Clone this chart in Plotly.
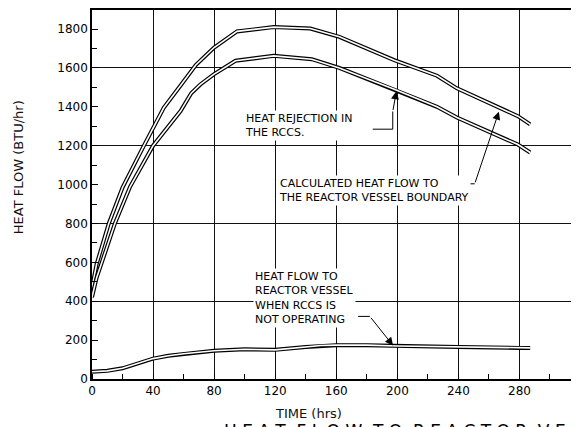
import plotly.graph_objects as go

# ---- data ----
t_boundary = [0, 3, 11, 20, 34, 47, 58, 68, 80, 95, 119, 143, 162, 198, 226, 239, 279, 287]
q_boundary = [470, 590, 800, 985, 1200, 1395, 1510, 1615, 1705, 1788, 1810, 1803, 1760, 1640, 1560, 1495, 1352, 1310]

t_rccs = [0, 3, 15, 25, 40, 48, 58, 65, 71, 80, 94, 119, 144, 162, 198, 226, 239, 279, 287]
q_rccs = [420, 520, 800, 990, 1200, 1280, 1378, 1470, 1515, 1568, 1637, 1662, 1645, 1600, 1490, 1400, 1345, 1206, 1165]

t_noop = [0, 10, 20, 30, 40, 50, 60, 80, 100, 120, 140, 150, 160, 180, 200, 240, 280, 287]
q_noop = [37, 42, 55, 78, 105, 120, 130, 145, 153, 150, 165, 172, 174, 174, 170, 165, 160, 160]

x_ticks = [0, 40, 80, 120, 160, 200, 240, 280]
y_ticks = [0, 200, 400, 600, 800, 1000, 1200, 1400, 1600, 1800]

FONT = "DejaVu Sans"

fig = go.Figure()

# double-line (hollow) curves: thick black line + thin white core
for tx, qy in [(t_boundary, q_boundary), (t_rccs, q_rccs), (t_noop, q_noop)]:
    fig.add_trace(go.Scatter(x=tx, y=qy, mode="lines",
                             line=dict(color="black", width=4),
                             hoverinfo="skip", showlegend=False))
    fig.add_trace(go.Scatter(x=tx, y=qy, mode="lines",
                             line=dict(color="white", width=1.6),
                             hoverinfo="skip", showlegend=False))

# invisible trace carrying the gridline axis
fig.add_trace(go.Scatter(x=[0], y=[0], yaxis="y2", mode="markers",
                         marker=dict(opacity=0), hoverinfo="skip", showlegend=False))

# leader lines
leaders = [
    [(183.9, 1285), (197, 1285), (197, 1376)],
    [(240.8, 1004), (250.7, 1004)],
    [(174.3, 322), (182, 322)],
]
for pts in leaders:
    path = "M " + " L ".join(f"{a},{b}" for a, b in pts)
    fig.add_shape(type="path", path=path, xref="x", yref="y",
                  line=dict(color="black", width=1), layer="above")

# arrows
arrows = [
    ((197, 1376), (199.4, 1480)),
    ((250.7, 1004), (266.5, 1375)),
    ((182, 322), (197.2, 172)),
]
for (ax_, ay_), (x_, y_) in arrows:
    fig.add_annotation(x=x_, y=y_, ax=ax_, ay=ay_, xref="x", yref="y",
                       axref="x", ayref="y", text="", showarrow=True,
                       arrowhead=2, arrowsize=1.6, arrowwidth=1, arrowcolor="black")

# labels
labels = [
    (98.8, 1304, "HEAT REJECTION IN<br>THE RCCS."),
    (120.9, 968, "CALCULATED HEAT FLOW TO<br>THE REACTOR VESSEL BOUNDARY"),
    (105.2, 419, "HEAT FLOW TO<br>REACTOR VESSEL<br>WHEN RCCS IS<br>NOT OPERATING"),
]
for x_, y_, txt in labels:
    fig.add_annotation(x=x_, y=y_, xref="x", yref="y", text=txt, showarrow=False,
                       xanchor="left", yanchor="middle", align="left",
                       bgcolor="white", borderpad=1,
                       font=dict(family=FONT, size=11, color="black"))

# axis titles
fig.add_annotation(x=-0.152, y=0.574, xref="paper", yref="paper",
                   text="HEAT FLOW (BTU/hr)", textangle=-90, showarrow=False,
                   xanchor="center", yanchor="middle",
                   font=dict(family=FONT, size=13, color="#111111"))
fig.add_annotation(x=0.4446, y=-0.094, xref="paper", yref="paper",
                   text="TIME (hrs)", showarrow=False,
                   xanchor="center", yanchor="middle",
                   font=dict(family=FONT, size=13, color="#111111"))

# cut-off figure caption at the bottom edge
fig.add_annotation(x=0.269, y=-0.111, xref="paper", yref="paper",
                   text="H E A T  F L O W  T O  R E A C T O R  V E S S E L",
                   showarrow=False, xanchor="left", yanchor="top", borderpad=0,
                   font=dict(family=FONT, size=17, color="black"))

# page body has an 8px margin, so the figure is sized to the visible area
fig.update_layout(
    width=571, height=419,
    margin=dict(l=84, r=0, t=0, b=48),
    paper_bgcolor="white", plot_bgcolor="white",
    xaxis=dict(range=[0, 319], tickvals=x_ticks, ticks="", showgrid=True,
               gridcolor="#111111", gridwidth=1, zeroline=False,
               showline=True, linecolor="black", linewidth=1.5, mirror=True,
               tickfont=dict(family=FONT, size=12, color="black"),
               minor=dict(dtick=20, tick0=0, ticks="inside", ticklen=5,
                          tickcolor="black", showgrid=False)),
    yaxis=dict(range=[0, 1898], tickvals=y_ticks, ticks="inside", ticklen=6,
               tickcolor="black", showgrid=False, zeroline=False,
               showline=True, linecolor="black", linewidth=1.5,
               tickfont=dict(family=FONT, size=12, color="black"),
               minor=dict(dtick=100, tick0=0, ticks="inside", ticklen=5,
                          tickcolor="black", showgrid=False)),
    yaxis2=dict(range=[0, 1898], overlaying="y", side="left", dtick=400, tick0=0,
                showgrid=True, gridcolor="#111111", gridwidth=1,
                showticklabels=False, ticks="", zeroline=False, showline=False),
)

fig.write_html("out.html")
